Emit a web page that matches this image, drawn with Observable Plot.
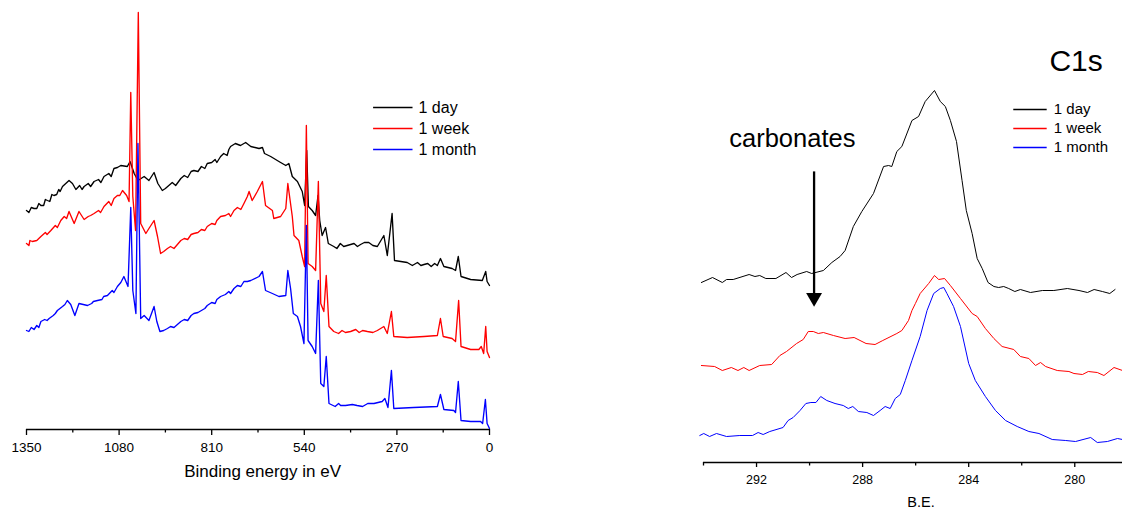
<!DOCTYPE html>
<html><head><meta charset="utf-8">
<script src="https://cdn.jsdelivr.net/npm/d3@7"></script>
<script src="https://cdn.jsdelivr.net/npm/@observablehq/plot@0.6"></script>
<style>
html,body{margin:0;padding:0;background:#fff;}
#wrap{display:flex;width:1122px;height:513px;overflow:hidden;}
#wrap svg{display:block;flex:none;}
</style></head><body><div id="wrap"></div>
<script>
const seriesNames = ["1 day", "1 week", "1 month"];
const seriesColors = ["#000000", "#ff0000", "#0000ff"];

// ---------- survey spectra: [binding energy eV, offset intensity a.u.]
const surveyDay = [[1350,219],[1343,217],[1336,222],[1328,221],[1320,221],[1314,226],[1308,224],[1300,224],[1295,230],[1289,229],[1282,228],[1276,235],[1270,234],[1262,235],[1256,240],[1252,238],[1245,243],[1226,249],[1216,246],[1206,240],[1195,244],[1188,240],[1182,243],[1170,246],[1163,243],[1153,248],[1140,250],[1133,247],[1124,253],[1110,256],[1103,253],[1095,261],[1085,262],[1075,264],[1056,263],[1048,268],[1036,256],[1025,249],[1007,253],[993,249],[978,257],[967,246],[954,239],[945,241],[935,244],[925,247],[915,244],[900,251],[890,254],[880,252],[870,258],[862,259],[850,258],[840,263],[830,261],[823,266],[810,267],[800,270],[795,267],[784,273],[775,276],[765,274],[760,280],[755,283],[741,286],[726,284],[711,287],[696,283],[672,281],[662,282],[656,276],[638,273],[614,268],[594,264],[585,266],[575,253],[560,248],[546,238],[539,224],[533,279],[528,223],[517,219],[507,214],[500,234],[495,209],[488,194],[478,202],[470,186],[454,183],[445,181],[435,186],[425,183],[415,184],[395,186],[385,183],[376,185],[365,187],[352,187],[340,184],[327,183],[308,194],[298,174],[284,216],[277,169],[240,167],[225,164],[210,167],[200,164],[191,165],[180,166],[170,163],[160,166],[152,164],[143,171],[133,163],[109,161],[99,159],[91,173],[83,153],[55,150],[21,149],[11,158],[7,148],[0,144]];

const surveyWeek = [[1350,186],[1343,184],[1340,189],[1333,188],[1320,189],[1314,191],[1308,193],[1295,197],[1290,195],[1279,199],[1266,204],[1260,202],[1250,209],[1240,213],[1233,211],[1226,218],[1211,206],[1197,218],[1182,210],[1170,213],[1163,214],[1153,216],[1140,219],[1134,217],[1124,223],[1110,228],[1103,224],[1095,231],[1085,234],[1078,234],[1070,239],[1058,234],[1051,228],[1046,337],[1040,233],[1032,199],[1024,417],[1017,206],[1002,196],[993,201],[978,209],[968,193],[959,176],[950,178],[939,181],[930,183],[920,181],[900,189],[890,191],[880,190],[870,195],[862,196],[850,197],[840,200],[830,199],[823,203],[810,206],[800,205],[795,209],[784,213],[770,214],[760,216],[755,213],[745,219],[735,222],[725,220],[716,226],[706,233],[701,238],[692,229],[677,238],[662,248],[653,224],[633,219],[629,211],[609,213],[594,221],[588,246],[575,213],[570,194],[556,189],[546,173],[539,163],[534,304],[529,166],[517,163],[507,159],[499,248],[492,126],[483,118],[476,154],[468,103],[454,98],[440,96],[430,99],[420,97],[405,98],[390,100],[380,97],[370,99],[356,98],[340,97],[327,99],[308,103],[298,96],[286,118],[279,93],[240,92],[191,93],[152,94],[143,111],[135,93],[109,91],[99,88],[90,129],[83,83],[55,80],[31,80],[24,83],[17,76],[11,103],[7,78],[0,72]];

const surveyMonth = [[1350,99],[1343,98],[1336,102],[1328,100],[1320,104],[1314,102],[1308,108],[1297,110],[1290,109],[1284,111],[1272,114],[1266,116],[1260,119],[1245,123],[1238,125],[1231,129],[1221,125],[1209,114],[1197,126],[1172,124],[1160,126],[1155,128],[1143,129],[1130,130],[1125,133],[1114,134],[1100,139],[1095,137],[1085,143],[1075,147],[1066,153],[1054,143],[1046,222],[1040,139],[1031,116],[1025,286],[1017,111],[1007,114],[993,109],[978,123],[970,108],[961,98],[950,99],[939,101],[930,103],[920,102],[900,108],[890,110],[880,109],[870,114],[862,116],[850,117],[840,119],[830,121],[823,124],[810,127],[800,126],[795,130],[784,133],[770,135],[760,138],[755,136],[745,141],[735,144],[725,143],[716,148],[706,148],[696,149],[672,153],[662,158],[653,139],[633,136],[614,133],[594,134],[588,159],[580,141],[572,116],[560,113],[551,103],[541,86],[534,204],[529,89],[517,83],[507,76],[499,149],[492,46],[483,43],[476,73],[468,26],[450,23],[440,26],[434,24],[420,24],[400,25],[386,24],[370,23],[355,26],[337,26],[313,28],[305,31],[296,22],[286,59],[279,21],[221,22],[152,23],[143,35],[133,20],[104,19],[99,17],[91,48],[83,9],[55,8],[26,8],[20,6],[12,30],[7,6],[0,1]];

const surveyMajorTicks = [1350, 1080, 810, 540, 270, 0];
const surveyMinorTicks = [1215, 945, 675, 405, 135];
const surveyXLabel = "Binding energy in eV";

// ---------- C1s region: binding energy eV and offset intensity a.u.
const c1sDayE = [294.08,293.66,293.29,293.13,292.88,292.28,292.06,291.88,291.65,291.27,290.89,290.68,290.47,290.11,289.92,289.48,289.16,288.85,288.66,288.35,288.03,287.59,287.21,287.02,286.90,286.71,286.52,286.14,285.89,285.64,285.29,285.07,284.88,284.69,284.46,284.25,284.09,283.87,283.68,283.49,283.27,283.05,282.87,282.68,282.49,282.26,282.05,281.67,281.22,280.79,280.28,279.84,279.52,279.27,278.96,278.68,278.48];
const c1sDayI = [180,185,180,183,183,188,186,187,184,184,190,185,188,191,189,192,200,206,212,236,251,269,296,297,296,311,316,342,346,361,372,361,356,342,321,282,252,229,204,194,180,176,175,176,174,171,173,170,172,172,174,172,170,173,171,169,173];

const c1sWeekE = [294.08,293.58,293.29,292.95,292.70,292.48,292.28,291.88,291.43,291.12,290.87,290.49,290.24,290.05,289.86,289.67,289.48,289.10,288.66,288.32,287.87,287.53,287.24,286.71,286.52,286.27,286.14,286.01,285.83,285.51,285.29,285.13,284.91,284.69,284.31,283.87,283.68,283.37,283.05,282.74,282.30,282.05,281.73,281.48,281.29,281.10,280.66,280.22,280.03,279.71,279.49,279.15,278.90,278.52,278.20];
const c1sWeekI = [97,96,92,95,92,95,92,97,98,107,111,119,123,131,131,129,130,127,124,125,119,118,122,129,132,142,152,159,169,179,187,183,184,177,164,149,146,134,124,116,113,106,104,97,100,96,92,91,89,88,91,90,87,95,92];

const c1sMonthE = [294.14,293.99,293.77,293.51,293.13,292.63,292.15,291.94,291.75,291.50,291.00,290.81,290.62,290.36,290.14,289.95,289.76,289.58,289.35,289.04,288.73,288.54,288.37,288.16,287.84,287.59,287.34,287.15,286.96,286.77,286.58,286.39,286.14,285.83,285.57,285.32,285.07,284.94,284.82,284.57,284.31,284.00,283.75,283.37,282.99,282.61,282.17,281.73,281.35,280.85,280.34,279.97,279.40,279.15,278.77,278.39,278.20];
const c1sMonthI = [27,29,26,29,26,27,27,30,28,31,35,42,45,52,59,60,60,66,62,59,57,54,56,51,50,47,52,56,54,64,68,82,102,126,152,169,174,175,169,156,136,99,82,66,52,42,36,31,29,23,22,21,25,20,21,24,23];

const c1sMajorTicks = [292, 288, 284, 280];
const c1sMinorTicks = [294, 290, 286, 282];
const c1sXLabel = "B.E.";
const c1sTitle = "C1s";
const annotationText = "carbonates";
const carbonateEnergy = 289.83;

// ---------- build tables
const colorOf = s => seriesColors[seriesNames.indexOf(s)];
const surveyRows = [];
[surveyDay, surveyWeek, surveyMonth].forEach((arr, k) =>
  arr.forEach(([e, v]) => surveyRows.push({series: seriesNames[k], e, v})));
const c1sRows = [];
[[c1sDayE, c1sDayI], [c1sWeekE, c1sWeekI], [c1sMonthE, c1sMonthI]].forEach(([E, I], k) =>
  E.forEach((e, i) => c1sRows.push({series: seriesNames[k], e, v: I[i]})));

const font = "'Liberation Sans', Arial, Helvetica, sans-serif";

const leftLegend = seriesNames.map((s, i) => ({series: s, y: [322, 301, 280][i]}));
const rightLegend = seriesNames.map((s, i) => ({series: s, y: [353, 334, 315][i]}));

const left = Plot.plot({
  width: 561, height: 513,
  marginLeft: 26, marginRight: 72, marginTop: 0, marginBottom: 84,
  x: {domain: [1350, 0], label: null},
  y: {domain: [0, 429], axis: null},
  style: {fontFamily: font, fontSize: "13.5px", color: "#000", background: "#fff", overflow: "visible"},
  marks: [
    Plot.line(surveyRows, {x: "e", y: "v", z: "series", stroke: d => colorOf(d.series), strokeWidth: 1.35}),
    Plot.ruleY([0], {stroke: "#000", strokeWidth: 1.3}),
    Plot.axisX(surveyMajorTicks, {tickSize: 6, tickPadding: 7, strokeWidth: 1.3, tickFormat: "d", fontSize: 13.5, label: null}),
    Plot.axisX(surveyMinorTicks, {tickSize: 3.5, strokeWidth: 1.3, tickFormat: () => "", label: null}),
    Plot.text([surveyXLabel], {frameAnchor: "bottom", dx: 4.6, dy: 47, fontSize: 17, text: d => d}),
    Plot.ruleY(leftLegend, {x1: 338, x2: 223, y: "y", stroke: d => colorOf(d.series), strokeWidth: 1.3}),
    Plot.text(leftLegend, {x: 207, y: "y", text: "series", textAnchor: "start", fontSize: 16})
  ]
});

const right = Plot.plot({
  width: 561, height: 513,
  marginLeft: 142, marginRight: 0, marginTop: 0, marginBottom: 51,
  x: {domain: [294, 278.2], label: null},
  y: {domain: [0, 462], axis: null},
  style: {fontFamily: font, fontSize: "12.5px", color: "#000", background: "#fff", overflow: "visible"},
  marks: [
    Plot.line(c1sRows, {x: "e", y: "v", z: "series", stroke: d => colorOf(d.series), strokeWidth: 1}),
    Plot.ruleY([0], {stroke: "#000", strokeWidth: 1.3}),
    Plot.axisX(c1sMajorTicks, {tickSize: 5, tickPadding: 7.5, strokeWidth: 1.3, tickFormat: "d", fontSize: 12.5, label: null}),
    Plot.axisX(c1sMinorTicks, {tickSize: 3.5, strokeWidth: 1.3, tickFormat: () => "", label: null}),
    Plot.text([c1sXLabel], {frameAnchor: "bottom", dx: 8, dy: 44, fontSize: 14.5, text: d => d}),
    Plot.text([c1sTitle], {x: 279.95, y: 401, fontSize: 30, text: d => d}),
    Plot.text([annotationText], {x: 290.65, y: 324, fontSize: 25.5, text: d => d}),
    Plot.ruleX([carbonateEnergy], {y1: 166, y2: 290.6, stroke: "#000", strokeWidth: 2.3}),
    Plot.dot([carbonateEnergy], {x: d => d, y: 164.9, symbol: "triangle", rotate: 180, r: 5.9, fill: "#000", stroke: null}),
    Plot.ruleY(rightLegend, {x1: 282.30, x2: 281.04, y: "y", stroke: d => colorOf(d.series), strokeWidth: 1.4}),
    Plot.text(rightLegend, {x: 280.79, y: "y", text: "series", textAnchor: "start", fontSize: 15})
  ]
});

const wrap = document.getElementById("wrap");
wrap.appendChild(left);
wrap.appendChild(right);
</script>
</body></html>
